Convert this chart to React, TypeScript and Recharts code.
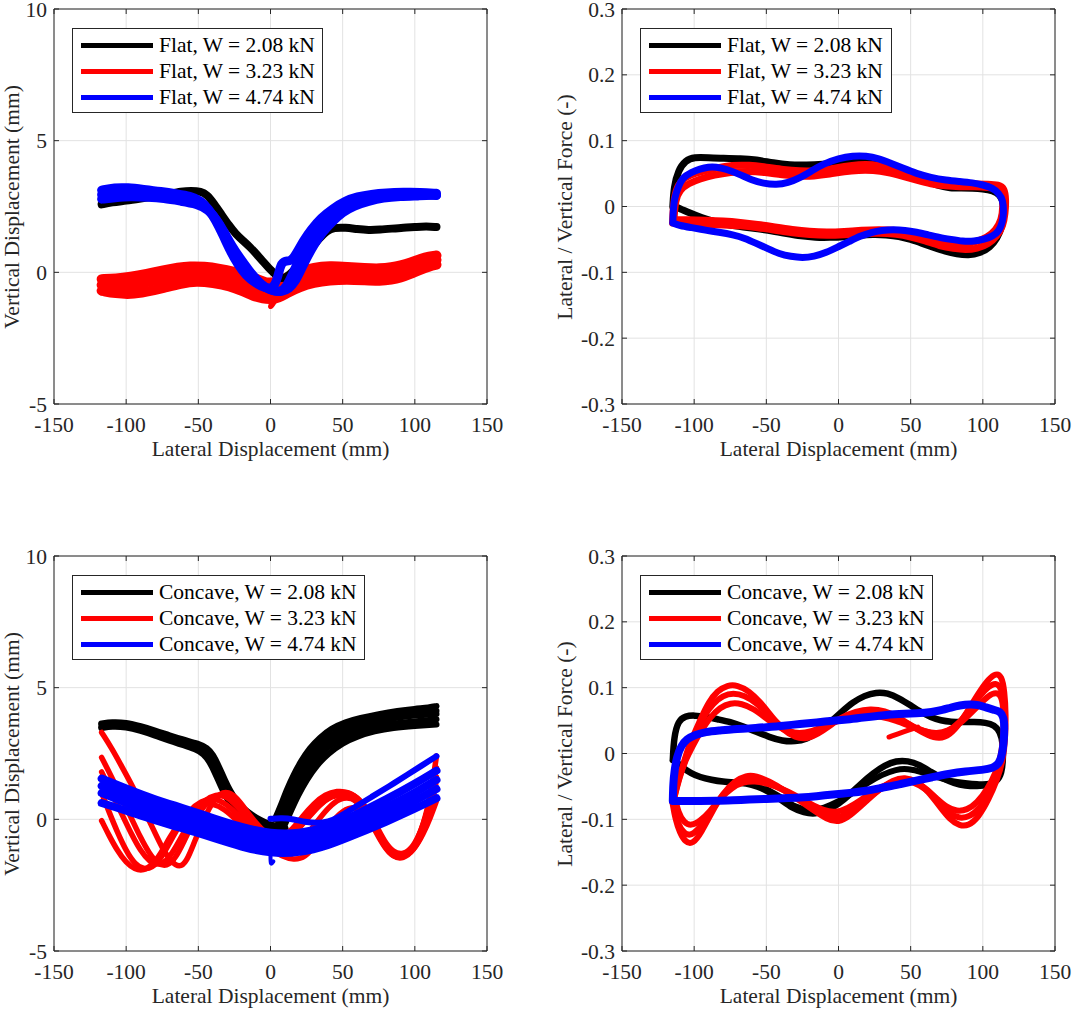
import React from 'react';
import { LineChart, Line, XAxis, YAxis, CartesianGrid, ReferenceLine } from 'recharts';

type Pair = [number, number];

// ---------------- ticks / labels ----------------
const xTicks = [-150, -100, -50, 0, 50, 100, 150];
const dispTicks = [-5, 0, 5, 10];
const forceTicks = [-0.3, -0.2, -0.1, 0, 0.1, 0.2, 0.3];
const flatLabels = ['Flat, W = 2.08 kN', 'Flat, W = 3.23 kN', 'Flat, W = 4.74 kN'];
const concaveLabels = ['Concave, W = 2.08 kN', 'Concave, W = 3.23 kN', 'Concave, W = 4.74 kN'];
const seriesColors = ['#000000', '#ff0000', '#0000ff'];
const xLabel = 'Lateral Displacement (mm)';
const dispLabel = 'Vertical Displacement (mm)';
const forceLabel = 'Lateral / Vertical Force (-)';

// ---------------- top-left: flat, vertical displacement ----------------
const flatDispBlack: Pair[] = [
  [-117, 2.58], [-110, 2.66], [-100, 2.72], [-90, 2.8], [-80, 2.88], [-70, 2.98], [-62, 3.07], [-55, 3.1], [-48, 3.07],
  [-44, 2.95], [-39, 2.6], [-34, 2.2], [-29, 1.8], [-24, 1.45], [-19, 1.2], [-14, 0.95], [-9, 0.65], [-5, 0.4], [-1, 0.15],
  [2, 0.0], [6, -0.25], [11, -0.2], [16, 0.06], [22, 0.45], [28, 0.9], [34, 1.3], [39, 1.58], [44, 1.7], [52, 1.7],
  [60, 1.64], [68, 1.6], [76, 1.62], [84, 1.66], [92, 1.7], [100, 1.72], [108, 1.75], [115, 1.72],
];
const flatDispRed1: Pair[] = [
  [-117, -0.26], [-107, -0.24], [-97, -0.17], [-86, -0.06], [-74, 0.08], [-64, 0.18], [-56, 0.23], [-46, 0.22], [-35, 0.14],
  [-25, 0.02], [-16, -0.11], [-9, -0.26], [-3, -0.41], [3, -0.38], [11, -0.21], [20, 0.02], [30, 0.19], [41, 0.24],
  [53, 0.21], [65, 0.16], [76, 0.14], [84, 0.19], [90, 0.26], [97, 0.37], [104, 0.51], [110, 0.6], [115, 0.64],
];
const flatDispRed2: Pair[] = [
  [-117, -0.48], [-107, -0.52], [-97, -0.5], [-86, -0.38], [-74, -0.25], [-64, -0.12], [-54, -0.05], [-43, -0.08],
  [-32, -0.19], [-22, -0.33], [-14, -0.5], [-6, -0.65], [0, -0.75], [6, -0.68], [12, -0.5], [20, -0.28], [30, -0.1],
  [41, -0.03], [53, -0.03], [65, -0.07], [76, -0.1], [84, -0.05], [90, 0.03], [97, 0.16], [104, 0.31], [110, 0.41], [115, 0.47],
];
const flatDispRed3: Pair[] = [
  [-117, -0.7], [-107, -0.8], [-97, -0.84], [-86, -0.74], [-74, -0.59], [-62, -0.42], [-51, -0.33], [-40, -0.4],
  [-28, -0.52], [-19, -0.72], [-12, -0.9], [-5, -1.0], [0, -1.03], [6, -0.96], [11, -0.8], [20, -0.56], [30, -0.39],
  [41, -0.3], [53, -0.27], [65, -0.3], [76, -0.33], [84, -0.28], [90, -0.21], [97, -0.06], [104, 0.1], [110, 0.22], [115, 0.29],
];
const flatDispRedSpike: Pair[] = [[3, -0.85], [1, -1.1], [-1, -1.35], [1, -1.3], [3, -1.12]];
const flatDispBlue1: Pair[] = [
  [-117, 3.12], [-108, 3.22], [-99, 3.22], [-88, 3.15], [-76, 3.07], [-64, 2.97], [-56, 2.9], [-48, 2.72], [-43, 2.42],
  [-38, 1.97], [-33, 1.42], [-28, 0.82], [-23, 0.32], [-17, -0.13], [-10, -0.43], [-4, -0.6], [2, -0.62], [5, -0.2],
  [7, 0.3], [10, 0.45], [14, 0.4], [18, 0.72], [23, 1.22], [28, 1.62], [35, 2.07], [43, 2.42], [52, 2.72], [60, 2.87],
  [70, 2.97], [80, 3.02], [92, 3.04], [104, 3.04], [115, 3.0],
];
const flatDispBlue2: Pair[] = [
  [-117, 2.78], [-108, 2.83], [-97, 2.88], [-85, 2.85], [-74, 2.81], [-62, 2.7], [-51, 2.6], [-43, 2.38], [-37, 1.98],
  [-32, 1.53], [-27, 1.03], [-21, 0.53], [-15, 0.08], [-9, -0.32], [-4, -0.57], [2, -0.72], [8, -0.74], [13, -0.62],
  [17, -0.37], [21, 0.08], [25, 0.53], [30, 1.03], [36, 1.53], [43, 1.93], [50, 2.28], [58, 2.53], [68, 2.7],
  [78, 2.83], [90, 2.88], [102, 2.9], [115, 2.93],
];
const flatDispBlue3: Pair[] = [
  [-117, 2.95], [-100, 3.05], [-80, 2.97], [-62, 2.85], [-50, 2.68], [-42, 2.35], [-36, 1.9], [-31, 1.35], [-26, 0.85],
  [-20, 0.35], [-13, -0.1], [-7, -0.45], [0, -0.7], [7, -0.75], [11, -0.55], [15, -0.1], [19, 0.4], [24, 0.95],
  [30, 1.45], [37, 1.9], [45, 2.3], [54, 2.6], [64, 2.8], [76, 2.92], [90, 2.97], [104, 2.98], [115, 2.92],
];

// ---------------- top-right: flat, force ratio ----------------
const flatForceBlack: Pair[] = [
  [-114.8, 0.0], [-114, 0.03], [-111, 0.055], [-106, 0.07], [-100, 0.075], [-90, 0.074], [-80, 0.073], [-68, 0.073],
  [-57, 0.071], [-45, 0.066], [-34, 0.063], [-22, 0.063], [-11, 0.064], [0, 0.066], [12, 0.069], [22, 0.069], [30, 0.066],
  [40, 0.059], [48, 0.052], [56, 0.044], [63, 0.037], [70, 0.031], [77, 0.028], [85, 0.028], [93, 0.028], [100, 0.027],
  [107, 0.024], [112, 0.018], [114.5, 0.005], [114.5, -0.015], [113, -0.032], [110, -0.048], [105, -0.062], [98, -0.071],
  [90, -0.074], [82, -0.072], [74, -0.068], [66, -0.062], [58, -0.056], [50, -0.05], [42, -0.045], [33, -0.043],
  [24, -0.042], [14, -0.044], [4, -0.046], [-6, -0.047], [-16, -0.047], [-26, -0.045], [-36, -0.041], [-46, -0.037],
  [-56, -0.034], [-66, -0.031], [-76, -0.028], [-86, -0.023], [-95, -0.017], [-103, -0.01], [-110, -0.003], [-113.6, 0.0],
];
const flatForceRed1: Pair[] = [
  [-115, -0.025], [-114.5, 0.0], [-113, 0.025], [-109, 0.04], [-103, 0.048], [-95, 0.053], [-85, 0.058], [-74, 0.063],
  [-62, 0.063], [-50, 0.06], [-38, 0.056], [-27, 0.054], [-16, 0.054], [-6, 0.057], [4, 0.061], [14, 0.064], [24, 0.064],
  [34, 0.06], [44, 0.053], [54, 0.045], [64, 0.039], [74, 0.035], [84, 0.034], [94, 0.034], [104, 0.034], [111, 0.033],
  [115, 0.028], [116, 0.01], [115.5, -0.01], [114, -0.03], [110, -0.045], [104, -0.057], [96, -0.064], [88, -0.066],
  [80, -0.064], [70, -0.06], [60, -0.052], [50, -0.046], [40, -0.042], [28, -0.04], [16, -0.041], [4, -0.043],
  [-8, -0.044], [-20, -0.043], [-32, -0.04], [-44, -0.036], [-56, -0.032], [-68, -0.029], [-80, -0.028], [-92, -0.027],
  [-104, -0.026], [-112, -0.025], [-115, -0.025],
];
const flatForceRed2: Pair[] = [
  [-114, -0.02], [-113, 0.01], [-110, 0.025], [-104, 0.035], [-96, 0.042], [-86, 0.048], [-75, 0.052], [-63, 0.054],
  [-51, 0.052], [-39, 0.048], [-28, 0.046], [-17, 0.046], [-6, 0.049], [4, 0.053], [14, 0.055], [24, 0.055], [34, 0.052],
  [44, 0.046], [54, 0.04], [64, 0.034], [74, 0.031], [84, 0.03], [94, 0.03], [104, 0.029], [110, 0.027], [113.5, 0.02],
  [114, 0.0], [113, -0.02], [109, -0.036], [103, -0.047], [95, -0.054], [87, -0.057], [79, -0.056], [70, -0.052],
  [60, -0.045], [50, -0.04], [40, -0.036], [28, -0.035], [16, -0.036], [4, -0.038], [-8, -0.039], [-20, -0.038],
  [-32, -0.035], [-44, -0.031], [-56, -0.027], [-68, -0.024], [-80, -0.022], [-92, -0.021], [-104, -0.02], [-114, -0.02],
];
const flatForceBlue: Pair[] = [
  [-114.8, -0.025], [-114.5, -0.005], [-113.6, 0.013], [-111, 0.03], [-108, 0.044], [-102, 0.052], [-96, 0.057],
  [-90, 0.06], [-85, 0.06], [-78, 0.057], [-68.6, 0.049], [-60, 0.04], [-52, 0.035], [-43, 0.033], [-35, 0.036],
  [-27, 0.043], [-18, 0.055], [-10, 0.065], [0, 0.073], [10, 0.077], [19, 0.077], [28, 0.073], [36, 0.066], [45, 0.058],
  [54, 0.05], [64, 0.044], [74.6, 0.04], [84, 0.038], [93, 0.036], [100, 0.033], [107, 0.028], [111, 0.02], [114, 0.01],
  [114.5, -0.01], [113.5, -0.025], [111, -0.038], [107, -0.045], [101, -0.05], [94, -0.053], [86, -0.053], [78, -0.05],
  [70, -0.047], [62, -0.043], [54, -0.039], [46, -0.036], [38, -0.035], [30, -0.036], [23, -0.039], [15, -0.045],
  [7.6, -0.053], [0, -0.061], [-8.5, -0.07], [-17, -0.076], [-25, -0.078], [-33, -0.076], [-41, -0.072], [-49, -0.064],
  [-57, -0.056], [-65, -0.048], [-73, -0.043], [-83, -0.039], [-92, -0.036], [-102, -0.032], [-110, -0.029], [-114.8, -0.025],
];

// ---------------- bottom-left: concave, vertical displacement ----------------
const concDispBlackL1: Pair[] = [
  [-117, 3.62], [-110, 3.68], [-100, 3.66], [-90, 3.52], [-80, 3.36], [-70, 3.17], [-60, 3.0], [-50, 2.86], [-44, 2.7],
  [-40, 2.45], [-36, 2.0], [-32, 1.5], [-28, 1.05], [-24, 0.7], [-19, 0.4], [-13, 0.15], [-7, -0.05], [-1, -0.2], [5, -0.3], [10, -0.35],
];
const concDispBlackL2: Pair[] = [
  [-117, 3.48], [-110, 3.55], [-100, 3.52], [-90, 3.38], [-80, 3.2], [-70, 3.0], [-60, 2.83], [-52, 2.68], [-46, 2.5],
  [-42, 2.2], [-38, 1.75], [-34, 1.25], [-30, 0.8], [-26, 0.45], [-21, 0.15], [-15, -0.05], [-8, -0.22], [-2, -0.33], [4, -0.42], [10, -0.38],
];
const concDispBlackR1: Pair[] = [
  [3, 0.0], [7, 0.5], [11, 1.1], [16, 1.7], [21, 2.2], [27, 2.7], [34, 3.1], [42, 3.45], [52, 3.7], [62, 3.85], [75, 4.0],
  [88, 4.12], [100, 4.2], [110, 4.25], [115, 4.3],
];
const concDispBlackR2: Pair[] = [
  [5, -0.05], [9, 0.5], [13, 1.1], [18, 1.68], [24, 2.2], [30, 2.68], [38, 3.05], [47, 3.38], [57, 3.6], [68, 3.78],
  [80, 3.93], [93, 4.03], [105, 4.08], [115, 4.12],
];
const concDispBlackR3: Pair[] = [
  [6, -0.1], [10, 0.5], [15, 1.1], [20, 1.65], [26, 2.2], [33, 2.65], [41, 3.0], [50, 3.3], [60, 3.5], [72, 3.7], [85, 3.85],
  [100, 3.95], [115, 4.0],
];
const concDispBlackR4: Pair[] = [
  [8, -0.15], [12, 0.4], [17, 1.0], [22, 1.58], [29, 2.12], [36, 2.58], [45, 2.95], [55, 3.23], [66, 3.43], [78, 3.58],
  [92, 3.68], [105, 3.75], [115, 3.8],
];
const concDispBlackR5: Pair[] = [
  [10, -0.2], [14, 0.3], [19, 0.9], [25, 1.5], [32, 2.05], [40, 2.5], [50, 2.9], [60, 3.15], [72, 3.35], [85, 3.48],
  [100, 3.55], [115, 3.6],
];
const concDispRed1: Pair[] = [
  [-117, 3.3], [-110, 2.7], [-103, 2.0], [-95, 1.2], [-88, 0.4], [-81, -0.4], [-75, -1.1], [-69, -1.6], [-63, -1.85],
  [-58, -1.6], [-53, -0.9], [-47, -0.1], [-41, 0.6], [-35, 1.0], [-29, 1.05], [-23, 0.8], [-17, 0.35], [-10, -0.15],
  [-4, -0.5], [2, -0.7], [8, -0.7], [15, -0.4], [22, 0.1], [30, 0.6], [38, 0.95], [46, 1.08], [54, 1.05], [62, 0.75],
  [69, 0.15], [75, -0.55], [81, -1.1], [87, -1.4], [94, -1.4], [100, -1.0], [106, -0.2], [111, 0.9], [115, 2.4],
];
const concDispRed2: Pair[] = [
  [-117, 2.35], [-110, 1.6], [-103, 0.8], [-96, 0.0], [-90, -0.7], [-84, -1.3], [-78, -1.7], [-72, -1.8], [-66, -1.5],
  [-60, -0.85], [-54, -0.15], [-47, 0.45], [-40, 0.85], [-33, 0.95], [-26, 0.75], [-19, 0.3], [-12, -0.2], [-5, -0.55],
  [2, -0.8], [9, -0.85], [16, -0.6], [23, -0.1], [31, 0.4], [39, 0.8], [47, 0.95], [55, 0.9], [63, 0.5], [70, -0.15],
  [76, -0.8], [82, -1.3], [89, -1.5], [96, -1.35], [103, -0.7], [109, 0.3], [115, 1.95],
];
const concDispRed3: Pair[] = [
  [-117, 1.0], [-112, 0.3], [-106, -0.5], [-100, -1.2], [-94, -1.7], [-88, -1.9], [-82, -1.85], [-76, -1.5], [-70, -0.9],
  [-63, -0.2], [-56, 0.35], [-48, 0.7], [-40, 0.8], [-32, 0.65], [-24, 0.25], [-16, -0.2], [-8, -0.6], [0, -0.9],
  [8, -1.15], [16, -1.1], [24, -0.7], [32, -0.1], [40, 0.45], [48, 0.8], [56, 0.85], [64, 0.5], [71, -0.2], [78, -0.9],
  [85, -1.35], [92, -1.45], [99, -1.2], [106, -0.5], [111, 0.3], [115, 1.5],
];
const concDispRed4: Pair[] = [
  [-117, -0.05], [-112, -0.6], [-106, -1.2], [-100, -1.65], [-94, -1.9], [-88, -1.95], [-82, -1.75], [-76, -1.3],
  [-70, -0.7], [-63, -0.1], [-56, 0.35], [-48, 0.6], [-40, 0.6], [-32, 0.4], [-24, 0.0], [-16, -0.45], [-8, -0.85],
  [0, -1.15], [8, -1.4], [16, -1.55], [24, -1.45], [32, -0.95], [40, -0.3], [48, 0.25], [56, 0.5], [64, 0.35], [71, -0.2],
  [78, -0.95], [85, -1.45], [92, -1.5], [99, -1.2], [106, -0.55], [111, 0.1], [115, 0.7],
];
const concDispRed5: Pair[] = [
  [-117, 1.8], [-110, 1.0], [-103, 0.2], [-96, -0.6], [-90, -1.2], [-84, -1.6], [-78, -1.75], [-72, -1.6], [-66, -1.1],
  [-59, -0.4], [-52, 0.3], [-45, 0.75], [-38, 0.95], [-31, 0.9], [-24, 0.55], [-17, 0.1], [-10, -0.35], [-3, -0.65],
  [4, -0.8], [11, -0.75], [18, -0.45], [26, 0.05], [34, 0.55], [42, 0.9], [50, 1.05], [58, 0.95], [66, 0.5], [73, -0.2],
  [79, -0.85], [85, -1.25], [92, -1.35], [99, -1.05], [105, -0.35], [110, 0.5], [115, 1.6],
];
const concDispBlue1: Pair[] = [
  [-117, 1.55], [-100, 1.17], [-80, 0.75], [-60, 0.42], [-40, 0.05], [-20, -0.3], [0, -0.55], [20, -0.55], [40, -0.3],
  [60, 0.2], [80, 0.75], [100, 1.35], [115, 1.85],
];
const concDispBlue2: Pair[] = [
  [-117, 1.27], [-100, 0.9], [-80, 0.48], [-60, 0.15], [-40, -0.2], [-20, -0.55], [0, -0.8], [20, -0.8], [40, -0.55],
  [60, -0.05], [80, 0.45], [100, 1.0], [115, 1.5],
];
const concDispBlue3: Pair[] = [
  [-117, 1.0], [-100, 0.62], [-80, 0.2], [-60, -0.12], [-40, -0.45], [-20, -0.8], [0, -1.05], [20, -1.05], [40, -0.8],
  [60, -0.3], [80, 0.15], [100, 0.7], [115, 1.15],
];
const concDispBlue4: Pair[] = [
  [-117, 0.62], [-100, 0.33], [-80, -0.05], [-60, -0.35], [-40, -0.7], [-20, -1.05], [0, -1.3], [20, -1.28], [40, -1.0],
  [60, -0.55], [80, -0.1], [100, 0.4], [115, 0.8],
];
const concDispBlue5: Pair[] = [
  [0, 0.02], [8, 0.05], [16, 0.0], [24, -0.1], [32, -0.15], [40, -0.1], [48, 0.1], [58, 0.45], [70, 0.85], [82, 1.25],
  [95, 1.7], [105, 2.05], [115, 2.4],
];
const concDispBlueSpike: Pair[] = [[0, -1.1], [0, -1.45], [0, -1.75], [2, -1.6]];

// ---------------- bottom-right: concave, force ratio ----------------
const concForceBlack1: Pair[] = [
  [-114.8, -0.01], [-114, 0.025], [-111, 0.05], [-106, 0.057], [-100, 0.058], [-92, 0.056], [-84, 0.052], [-75, 0.048],
  [-66, 0.041], [-57, 0.033], [-48, 0.025], [-39, 0.019], [-30, 0.018], [-22, 0.022], [-14, 0.032], [-6, 0.047], [2, 0.063],
  [10, 0.078], [18, 0.088], [26, 0.093], [34, 0.092], [42, 0.084], [50, 0.073], [57, 0.063], [64, 0.055], [71, 0.05],
  [78, 0.048], [86, 0.048], [94, 0.048], [102, 0.047], [108, 0.043], [112, 0.033], [114, 0.015], [114, -0.01], [113, -0.03],
  [110, -0.042], [104, -0.048], [96, -0.05], [88, -0.049], [80, -0.045], [72, -0.038], [64, -0.028], [56, -0.017],
  [48, -0.011], [40, -0.011], [32, -0.018], [24, -0.03], [16, -0.045], [8, -0.062], [0, -0.077], [-8, -0.087],
  [-16, -0.092], [-24, -0.09], [-32, -0.083], [-40, -0.07], [-48, -0.058], [-56, -0.05], [-64, -0.045], [-72, -0.044],
  [-80, -0.043], [-88, -0.04], [-96, -0.036], [-102, -0.03], [-108, -0.022], [-112, -0.013], [-114.8, -0.01],
];
const concForceBlack2: Pair[] = [
  [104, -0.046], [96, -0.047], [88, -0.045], [78, -0.042], [68, -0.036], [58, -0.028], [48, -0.023], [40, -0.024],
  [30, -0.032], [20, -0.045], [10, -0.06], [0, -0.073], [-10, -0.083], [-20, -0.087], [-30, -0.082], [-40, -0.066],
  [-50, -0.054],
];
const concForceRed1: Pair[] = [
  [-115, -0.075], [-112, -0.045], [-108, -0.02], [-104, 0.01], [-100, 0.03], [-95, 0.055], [-90, 0.078], [-84, 0.095],
  [-77, 0.104], [-70, 0.104], [-62, 0.095], [-54, 0.078], [-46, 0.055], [-38, 0.035], [-30, 0.024], [-22, 0.022],
  [-14, 0.03], [-6, 0.042], [2, 0.055], [12, 0.064], [22, 0.068], [32, 0.065], [42, 0.055], [52, 0.04], [62, 0.027],
  [70, 0.022], [77, 0.028], [84, 0.045], [91, 0.07], [98, 0.095], [104, 0.113], [109, 0.122], [113, 0.118], [115, 0.095],
  [116, 0.06], [115.5, 0.02], [114, -0.01], [110, -0.04], [104, -0.07], [97, -0.097], [90, -0.11], [84, -0.11], [77, -0.1],
  [70, -0.08], [62, -0.057], [54, -0.042], [46, -0.036], [38, -0.04], [28, -0.055], [18, -0.075], [8, -0.095], [0, -0.105],
  [-8, -0.1], [-18, -0.085], [-28, -0.07], [-38, -0.055], [-48, -0.042], [-57, -0.034], [-64, -0.033], [-72, -0.042],
  [-80, -0.06], [-88, -0.09], [-95, -0.12], [-101, -0.138], [-106, -0.135], [-110, -0.12], [-113, -0.1], [-115, -0.075],
];
const concForceRed2: Pair[] = [
  [-114, -0.07], [-111, -0.04], [-107, -0.015], [-103, 0.01], [-98, 0.035], [-93, 0.058], [-87, 0.076], [-80, 0.088],
  [-73, 0.092], [-65, 0.088], [-57, 0.077], [-49, 0.06], [-41, 0.043], [-33, 0.032], [-25, 0.028], [-17, 0.032],
  [-9, 0.042], [0, 0.052], [10, 0.06], [20, 0.063], [30, 0.061], [40, 0.054], [50, 0.043], [60, 0.033], [68, 0.029],
  [76, 0.033], [84, 0.047], [91, 0.067], [98, 0.088], [104, 0.102], [109, 0.108], [113, 0.1], [115, 0.075], [115.5, 0.04],
  [114.5, 0.005], [111, -0.028], [105, -0.058], [98, -0.083], [91, -0.096], [84, -0.099], [77, -0.092], [70, -0.075],
  [62, -0.055], [54, -0.043], [46, -0.038], [38, -0.042], [28, -0.055], [18, -0.072], [8, -0.089], [0, -0.098],
  [-8, -0.095], [-18, -0.082], [-28, -0.068], [-38, -0.055], [-48, -0.045], [-57, -0.038], [-65, -0.038], [-73, -0.047],
  [-81, -0.064], [-89, -0.09], [-96, -0.113], [-102, -0.125], [-107, -0.122], [-111, -0.108], [-114, -0.085], [-114, -0.07],
];
const concForceRed3: Pair[] = [
  [-113.5, -0.065], [-110, -0.035], [-106, -0.01], [-101, 0.012], [-95, 0.035], [-89, 0.055], [-82, 0.07], [-75, 0.077],
  [-67, 0.076], [-59, 0.068], [-51, 0.055], [-43, 0.042], [-35, 0.033], [-27, 0.03], [-19, 0.033], [-10, 0.042], [0, 0.05],
  [10, 0.056], [20, 0.058], [30, 0.056], [40, 0.05], [50, 0.041], [60, 0.033], [68, 0.03], [76, 0.034], [84, 0.045],
  [91, 0.06], [98, 0.075], [104, 0.088], [109, 0.093], [113, 0.088], [114.5, 0.065], [114.5, 0.03], [113, 0.0],
  [109, -0.03], [103, -0.055], [96, -0.075], [89, -0.086], [82, -0.088], [75, -0.082], [68, -0.068], [60, -0.053],
  [52, -0.043], [44, -0.04], [36, -0.044], [26, -0.055], [16, -0.07], [6, -0.084], [-2, -0.09], [-10, -0.087],
  [-20, -0.076], [-30, -0.063], [-40, -0.053], [-50, -0.045], [-58, -0.042], [-66, -0.043], [-74, -0.052], [-82, -0.068],
  [-89, -0.088], [-96, -0.103], [-102, -0.11], [-107, -0.105], [-111, -0.09], [-113.5, -0.065],
];
const concForceRedStart: Pair[] = [[35, 0.025], [45, 0.033], [55, 0.04]];
const concForceBlue: Pair[] = [
  [-114.8, -0.072], [-114.5, -0.045], [-113.6, -0.026], [-112, -0.005], [-109, 0.012], [-105, 0.022], [-100, 0.028],
  [-92, 0.033], [-82, 0.035], [-73, 0.037], [-62, 0.038], [-50, 0.04], [-38, 0.042], [-27, 0.045], [-15, 0.047],
  [-4, 0.05], [8, 0.052], [19, 0.055], [30, 0.058], [42, 0.06], [54, 0.061], [65, 0.063], [72, 0.066], [78, 0.07],
  [84, 0.073], [91, 0.075], [97, 0.074], [102, 0.07], [108, 0.066], [112, 0.064], [114.5, 0.055], [115, 0.04],
  [114.5, 0.015], [113, -0.005], [111, -0.016], [107, -0.022], [100, -0.025], [88, -0.027], [76, -0.031], [65, -0.036],
  [54, -0.041], [42, -0.047], [30, -0.052], [19, -0.057], [8, -0.06], [-4, -0.062], [-15, -0.065], [-27, -0.067],
  [-38, -0.068], [-50, -0.069], [-62, -0.07], [-73, -0.071], [-85, -0.072], [-96, -0.072], [-106, -0.072], [-114.8, -0.072],
];

// ---------------- layout ----------------
const FONT = "'Liberation Serif', 'Times New Roman', serif";
const AX = '#262626';
const FS = 21.5;
const PW = 433; // plot width
const PH = 395; // plot height
const ML = 60; // space left of plot inside svg
const MT = 12;
const MR = 40;
const MB = 45;

type Pass = { data: Pair[]; color: string; width: number };

const toPts = (a: Pair[]) => a.map(([x, y]) => ({ x, y }));

function Panel(props: {
  left: number;
  top: number;
  yDomain: [number, number];
  yTicks: number[];
  yLabel: string;
  yLabelX: number;
  passes: Pass[];
  labels: string[];
  legendWidth: number;
}) {
  const { left, top, yDomain, yTicks, yLabel, yLabelX, passes, labels, legendWidth } = props;
  const PL = ML;
  const PR = ML + PW;
  const PT = MT;
  const PB = MT + PH;
  const XTick = (p: any) => {
    const x = p.x;
    return (
      <g>
        <line x1={x} x2={x} y1={PB} y2={PB - 5} stroke={AX} strokeWidth={1} />
        <line x1={x} x2={x} y1={PT} y2={PT + 5} stroke={AX} strokeWidth={1} />
        <text x={x} y={PB + 20} dy="0.35em" textAnchor="middle" fill={AX} fontSize={FS} fontFamily={FONT}>
          {p.payload.value}
        </text>
      </g>
    );
  };
  const YTick = (p: any) => {
    const y = p.y;
    return (
      <g>
        <line x1={PL} x2={PL + 5} y1={y} y2={y} stroke={AX} strokeWidth={1} />
        <line x1={PR - 5} x2={PR} y1={y} y2={y} stroke={AX} strokeWidth={1} />
        <text x={PL - 7} y={y} dy="0.35em" textAnchor="end" fill={AX} fontSize={FS} fontFamily={FONT}>
          {p.payload.value}
        </text>
      </g>
    );
  };
  return (
    <>
      <div style={{ position: 'absolute', left: left - ML, top: top - MT }}>
        <LineChart
          width={ML + PW + MR}
          height={MT + PH + MB}
          margin={{ top: MT, right: MR, bottom: 0, left: 0 }}
        >
          <CartesianGrid stroke="#e2e2e2" strokeWidth={1} />
          <XAxis
            dataKey="x"
            type="number"
            domain={[-150, 150]}
            ticks={xTicks}
            interval={0}
            height={MB}
            tickSize={0}
            tickMargin={0}
            tickLine={false}
            tick={XTick}
            stroke={AX}
            allowDataOverflow
          />
          <YAxis
            dataKey="y"
            type="number"
            domain={yDomain}
            ticks={yTicks}
            interval={0}
            width={ML}
            tickSize={0}
            tickMargin={0}
            tickLine={false}
            tick={YTick}
            stroke={AX}
            allowDataOverflow
          />
          <ReferenceLine y={yDomain[1]} stroke={AX} strokeWidth={1} />
          <ReferenceLine x={150} stroke={AX} strokeWidth={1} />
          {passes.map((ps, i) => (
            <Line
              key={i}
              data={toPts(ps.data)}
              dataKey="y"
              type="basis"
              stroke={ps.color}
              strokeWidth={ps.width}
              strokeLinecap="round"
              strokeLinejoin="round"
              dot={false}
              activeDot={false}
              isAnimationActive={false}
            />
          ))}
        </LineChart>
      </div>
      {/* legend */}
      <div
        style={{
          position: 'absolute',
          left: left + 18,
          top: top + 19,
          width: legendWidth,
          height: 85,
          border: `1px solid ${AX}`,
          background: '#fff',
          boxSizing: 'border-box',
        }}
      >
        {labels.map((lab, i) => (
          <div key={i} style={{ position: 'absolute', left: 0, top: 3 + i * 26, height: 26, width: '100%' }}>
            <div
              style={{
                position: 'absolute',
                left: 8,
                top: 10.5,
                width: 72,
                height: 5,
                background: seriesColors[i],
              }}
            />
            <div
              style={{
                position: 'absolute',
                left: 86,
                top: 0,
                height: 26,
                lineHeight: '26px',
                fontFamily: FONT,
                fontSize: FS,
                color: '#000',
                whiteSpace: 'nowrap',
              }}
            >
              {lab}
            </div>
          </div>
        ))}
      </div>
      {/* axis labels */}
      <div
        style={{
          position: 'absolute',
          left: left + PW / 2,
          top: top + PH + 45,
          transform: 'translate(-50%, -50%)',
          fontFamily: FONT,
          fontSize: FS,
          color: AX,
          whiteSpace: 'nowrap',
        }}
      >
        {xLabel}
      </div>
      <div
        style={{
          position: 'absolute',
          left: yLabelX,
          top: top + PH / 2,
          transform: 'translate(-50%, -50%) rotate(-90deg)',
          fontFamily: FONT,
          fontSize: FS,
          color: AX,
          whiteSpace: 'nowrap',
        }}
      >
        {yLabel}
      </div>
    </>
  );
}

const K = seriesColors[0];
const R = seriesColors[1];
const B = seriesColors[2];

export default function App() {
  const tl: Pass[] = [
    { data: flatDispRed1, color: R, width: 10 },
    { data: flatDispRed2, color: R, width: 10 },
    { data: flatDispRed3, color: R, width: 10 },
    { data: flatDispRedSpike, color: R, width: 4 },
    { data: flatDispBlack, color: K, width: 8 },
    { data: flatDispBlue1, color: B, width: 9 },
    { data: flatDispBlue2, color: B, width: 9 },
    { data: flatDispBlue3, color: B, width: 9 },
  ];
  const tr: Pass[] = [
    { data: flatForceBlack, color: K, width: 7 },
    { data: flatForceRed1, color: R, width: 7 },
    { data: flatForceRed2, color: R, width: 7 },
    { data: flatForceBlue, color: B, width: 7 },
  ];
  const bl: Pass[] = [
    { data: concDispBlackL1, color: K, width: 7 },
    { data: concDispBlackL2, color: K, width: 7 },
    { data: concDispBlackR1, color: K, width: 6 },
    { data: concDispBlackR2, color: K, width: 6 },
    { data: concDispBlackR3, color: K, width: 6 },
    { data: concDispBlackR4, color: K, width: 6 },
    { data: concDispBlackR5, color: K, width: 6 },
    { data: concDispRed1, color: R, width: 5.5 },
    { data: concDispRed2, color: R, width: 5.5 },
    { data: concDispRed3, color: R, width: 5.5 },
    { data: concDispRed4, color: R, width: 5.5 },
    { data: concDispRed5, color: R, width: 5.5 },
    { data: concDispBlue1, color: B, width: 8 },
    { data: concDispBlue2, color: B, width: 8 },
    { data: concDispBlue3, color: B, width: 8 },
    { data: concDispBlue4, color: B, width: 8 },
    { data: concDispBlue5, color: B, width: 6 },
    { data: concDispBlueSpike, color: B, width: 4 },
  ];
  const br: Pass[] = [
    { data: concForceBlack1, color: K, width: 6.5 },
    { data: concForceBlack2, color: K, width: 6 },
    { data: concForceRed1, color: R, width: 6 },
    { data: concForceRed2, color: R, width: 6 },
    { data: concForceRed3, color: R, width: 6 },
    { data: concForceRedStart, color: R, width: 5 },
    { data: concForceBlue, color: B, width: 8 },
  ];
  return (
    <div
      style={{
        position: 'absolute',
        left: 0,
        top: 0,
        width: 1072,
        height: 1009,
        background: '#fff',
        overflow: 'hidden',
      }}
    >
      <Panel left={54} top={9} yDomain={[-5, 10]} yTicks={dispTicks} yLabel={dispLabel} yLabelX={12} passes={tl} labels={flatLabels} legendWidth={251} />
      <Panel left={622} top={9} yDomain={[-0.3, 0.3]} yTicks={forceTicks} yLabel={forceLabel} yLabelX={565} passes={tr} labels={flatLabels} legendWidth={252} />
      <Panel left={54} top={556} yDomain={[-5, 10]} yTicks={dispTicks} yLabel={dispLabel} yLabelX={12} passes={bl} labels={concaveLabels} legendWidth={293} />
      <Panel left={622} top={556} yDomain={[-0.3, 0.3]} yTicks={forceTicks} yLabel={forceLabel} yLabelX={565} passes={br} labels={concaveLabels} legendWidth={293} />
    </div>
  );
}
